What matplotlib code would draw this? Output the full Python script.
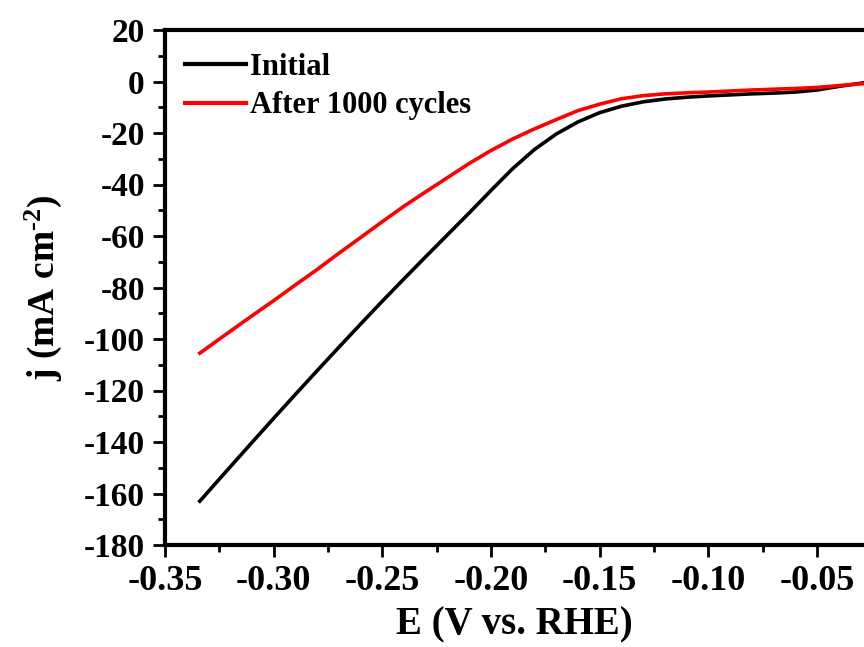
import matplotlib
matplotlib.use("Agg")
import matplotlib.pyplot as plt
from matplotlib.ticker import AutoMinorLocator

# LSV polarization curves (HER), potential in V vs. RHE, current density in mA cm^-2
E_initial = [-0.334, -0.325, -0.31, -0.30, -0.29, -0.28, -0.27, -0.26, -0.25,
             -0.24, -0.23, -0.22, -0.21, -0.20, -0.19, -0.18, -0.17, -0.16,
             -0.15, -0.14, -0.13, -0.12, -0.11, -0.10, -0.09, -0.08, -0.07,
             -0.06, -0.05, -0.04, -0.03, -0.028]
j_initial = [-163.0, -154.4, -140.2, -130.8, -121.5, -112.3, -103.2, -94.2, -85.3,
             -76.6, -68.0, -59.5, -51.0, -42.3, -33.8, -26.4, -20.4, -15.7,
             -12.1, -9.6, -7.9, -6.8, -6.1, -5.6, -5.2, -4.8, -4.5,
             -4.1, -3.3, -1.9, -0.7, -0.4]

E_cycled = [-0.334, -0.32, -0.31, -0.30, -0.29, -0.28, -0.27, -0.26, -0.25,
            -0.24, -0.23, -0.22, -0.21, -0.20, -0.19, -0.18, -0.17, -0.16,
            -0.15, -0.14, -0.13, -0.12, -0.11, -0.10, -0.09, -0.08, -0.07,
            -0.06, -0.05, -0.04, -0.03, -0.028]
j_cycled = [-105.5, -97.0, -91.0, -85.1, -79.0, -73.0, -66.7, -60.6, -54.4,
            -48.4, -42.8, -37.3, -31.8, -26.8, -22.3, -18.4, -14.8, -11.3,
            -8.8, -6.7, -5.5, -4.8, -4.4, -4.1, -3.7, -3.3, -3.0,
            -2.7, -2.3, -1.6, -0.9, -0.8]

series_labels = ["Initial", "After 1000 cycles"]
series_colors = ["black", "#ff0000"]

x_ticks = [-0.35, -0.30, -0.25, -0.20, -0.15, -0.10, -0.05]
y_ticks = list(range(20, -181, -20))

plt.rcParams["font.family"] = ["Liberation Serif", "DejaVu Serif"]
plt.rcParams["font.weight"] = "bold"
plt.rcParams["mathtext.fontset"] = "custom"
plt.rcParams["mathtext.rm"] = "Liberation Serif:bold"
plt.rcParams["mathtext.default"] = "rm"

fig = plt.figure(figsize=(8.64, 6.47), dpi=100)
ax = fig.add_axes([165 / 864, 1 - 545 / 647, (864 - 165) / 864, (545 - 30) / 647])

ax.plot(E_initial, j_initial, color=series_colors[0], lw=2.6, label=series_labels[0])
ax.plot(E_cycled, j_cycled, color=series_colors[1], lw=2.6, label=series_labels[1])

ax.set_xlim(-0.35, -0.0284)
ax.set_ylim(-180, 20)
ax.set_xticks(x_ticks)
ax.set_yticks(y_ticks)
ax.set_xticklabels([f"{v:.2f}" for v in x_ticks])
ax.set_yticklabels([str(v) for v in y_ticks])
ax.xaxis.set_minor_locator(AutoMinorLocator(2))
ax.yaxis.set_minor_locator(AutoMinorLocator(2))

ax.tick_params(which="both", direction="out", top=False, right=False, width=2.0)
ax.tick_params(which="major", length=8.5)
ax.tick_params(which="minor", length=5)
ax.tick_params(axis="x", which="major", labelsize=26, pad=6)
ax.tick_params(axis="y", which="major", labelsize=24, pad=6)
for lbl in ax.get_xticklabels() + ax.get_yticklabels():
    lbl.set_fontweight("bold")

for side in ["left", "bottom", "top"]:
    ax.spines[side].set_linewidth(3.0)
ax.spines["right"].set_visible(False)

ax.set_xlabel("E (V vs. RHE)", fontsize=28, fontweight="bold", labelpad=6)
ax.set_ylabel(r"j (mA cm$^{\text{-2}}$)", fontsize=27, fontweight="bold", labelpad=14)

leg = ax.legend(loc="upper left", bbox_to_anchor=(0.028, 0.955), frameon=False,
                fontsize=22, handlelength=2.0, handletextpad=0.15,
                labelspacing=0.3, borderpad=0, borderaxespad=0)
for line in leg.get_lines():
    line.set_linewidth(3.0)
for txt in leg.get_texts():
    txt.set_fontweight("bold")

fig.savefig("out.png", dpi=100)
